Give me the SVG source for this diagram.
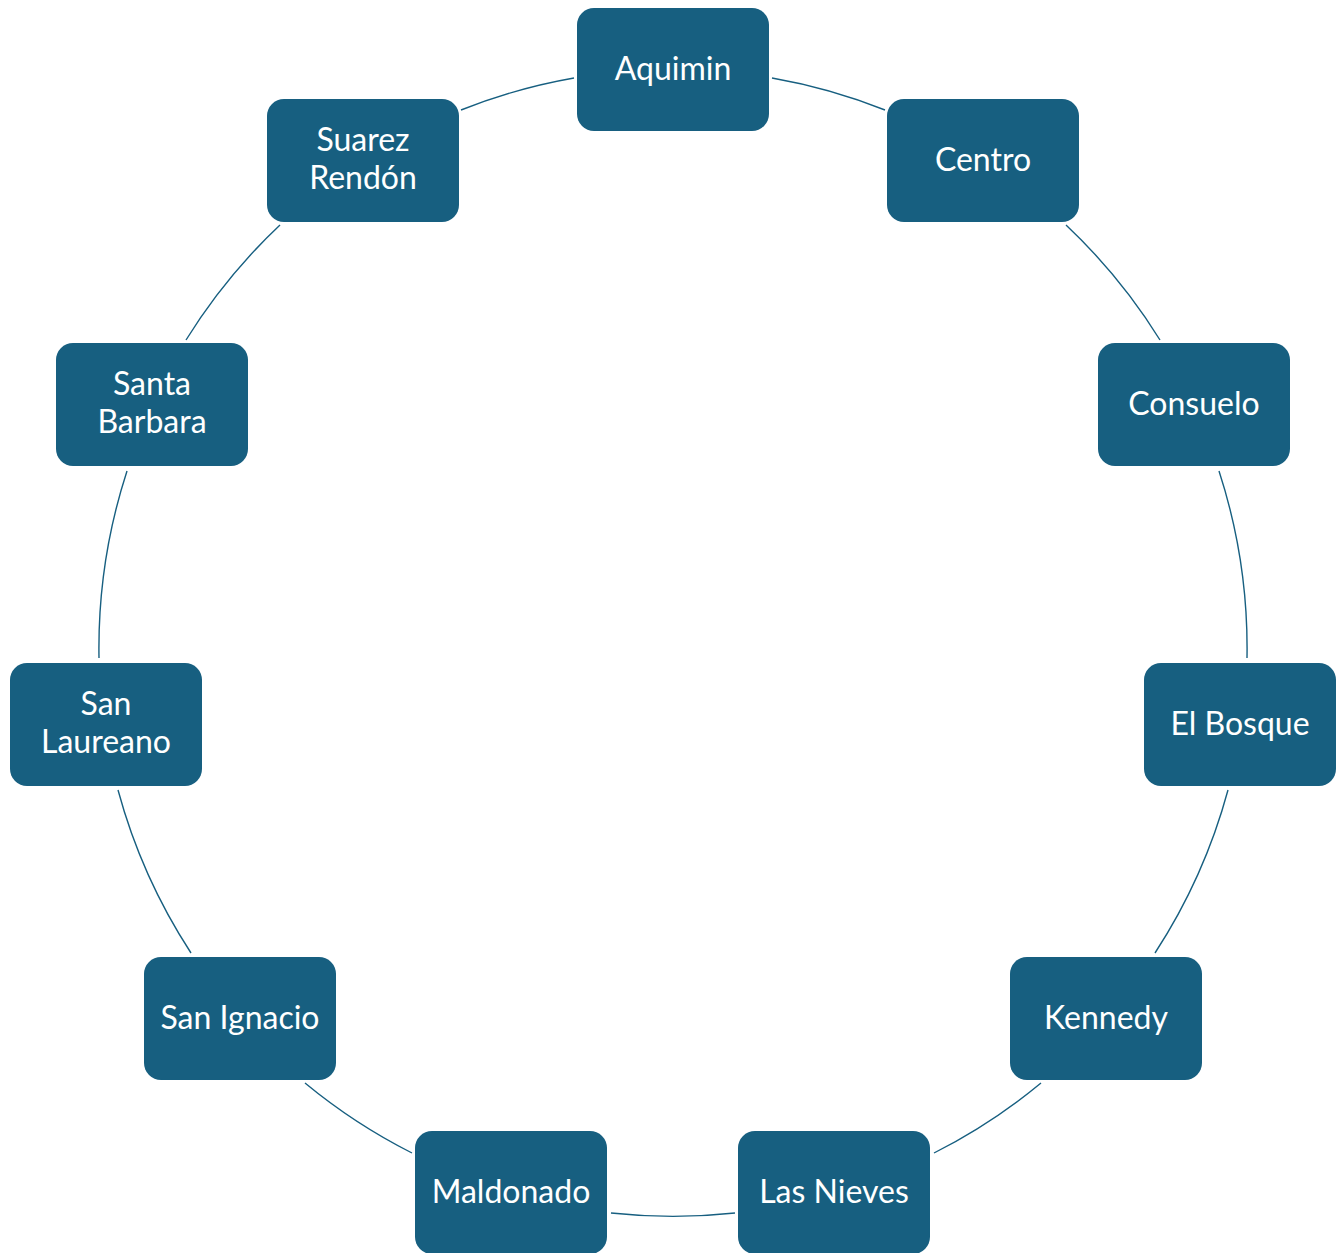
<svg xmlns="http://www.w3.org/2000/svg" width="1344" height="1253" viewBox="0 0 1344 1253">
<style>
.n{fill:#175F80}
.t{fill:#FFFFFF;font-family:Lato,"Open Sans",sans-serif;font-size:32px;text-anchor:middle}
.c{fill:none;stroke:#175F80;stroke-width:1.4}
</style>
<rect width="1344" height="1253" fill="#FFFFFF"/>
<g id="connectors">
<path class="c" d="M772,78 A573,573 0 0 1 885,110"/>
<path class="c" d="M1066,225 A573,573 0 0 1 1160,340"/>
<path class="c" d="M1219,471 A573,573 0 0 1 1247,658"/>
<path class="c" d="M1228,790 A573,573 0 0 1 1155,953"/>
<path class="c" d="M1041,1083 A573,573 0 0 1 934,1153"/>
<path class="c" d="M735,1213 A573,573 0 0 1 611,1213"/>
<path class="c" d="M412,1153 A573,573 0 0 1 305,1083"/>
<path class="c" d="M191,953 A573,573 0 0 1 118,790"/>
<path class="c" d="M99,658 A573,573 0 0 1 127,471"/>
<path class="c" d="M186,340 A573,573 0 0 1 280,225"/>
<path class="c" d="M461,110 A573,573 0 0 1 574,78"/>
</g>
<g id="aquimin"><rect class="n" x="577" y="8" width="192" height="123" rx="17"/><text class="t" x="673" y="80">Aquimin</text></g>
<g id="centro"><rect class="n" x="887" y="99" width="192" height="123" rx="17"/><text class="t" x="983" y="171">Centro</text></g>
<g id="consuelo"><rect class="n" x="1098" y="343" width="192" height="123" rx="17"/><text class="t" x="1194" y="415">Consuelo</text></g>
<g id="el-bosque"><rect class="n" x="1144" y="663" width="192" height="123" rx="17"/><text class="t" x="1240" y="735">El Bosque</text></g>
<g id="kennedy"><rect class="n" x="1010" y="957" width="192" height="123" rx="17"/><text class="t" x="1106" y="1029">Kennedy</text></g>
<g id="las-nieves"><rect class="n" x="738" y="1131" width="192" height="123" rx="17"/><text class="t" x="834" y="1203">Las Nieves</text></g>
<g id="maldonado"><rect class="n" x="415" y="1131" width="192" height="123" rx="17"/><text class="t" x="511" y="1203">Maldonado</text></g>
<g id="san-ignacio"><rect class="n" x="144" y="957" width="192" height="123" rx="17"/><text class="t" x="240" y="1029">San Ignacio</text></g>
<g id="san-laureano"><rect class="n" x="10" y="663" width="192" height="123" rx="17"/><text class="t" x="106" y="715">San</text><text class="t" x="106" y="753">Laureano</text></g>
<g id="santa-barbara"><rect class="n" x="56" y="343" width="192" height="123" rx="17"/><text class="t" x="152" y="395">Santa</text><text class="t" x="152" y="433">Barbara</text></g>
<g id="suarez-rendon"><rect class="n" x="267" y="99" width="192" height="123" rx="17"/><text class="t" x="363" y="151">Suarez</text><text class="t" x="363" y="189">Rendón</text></g>
</svg>
